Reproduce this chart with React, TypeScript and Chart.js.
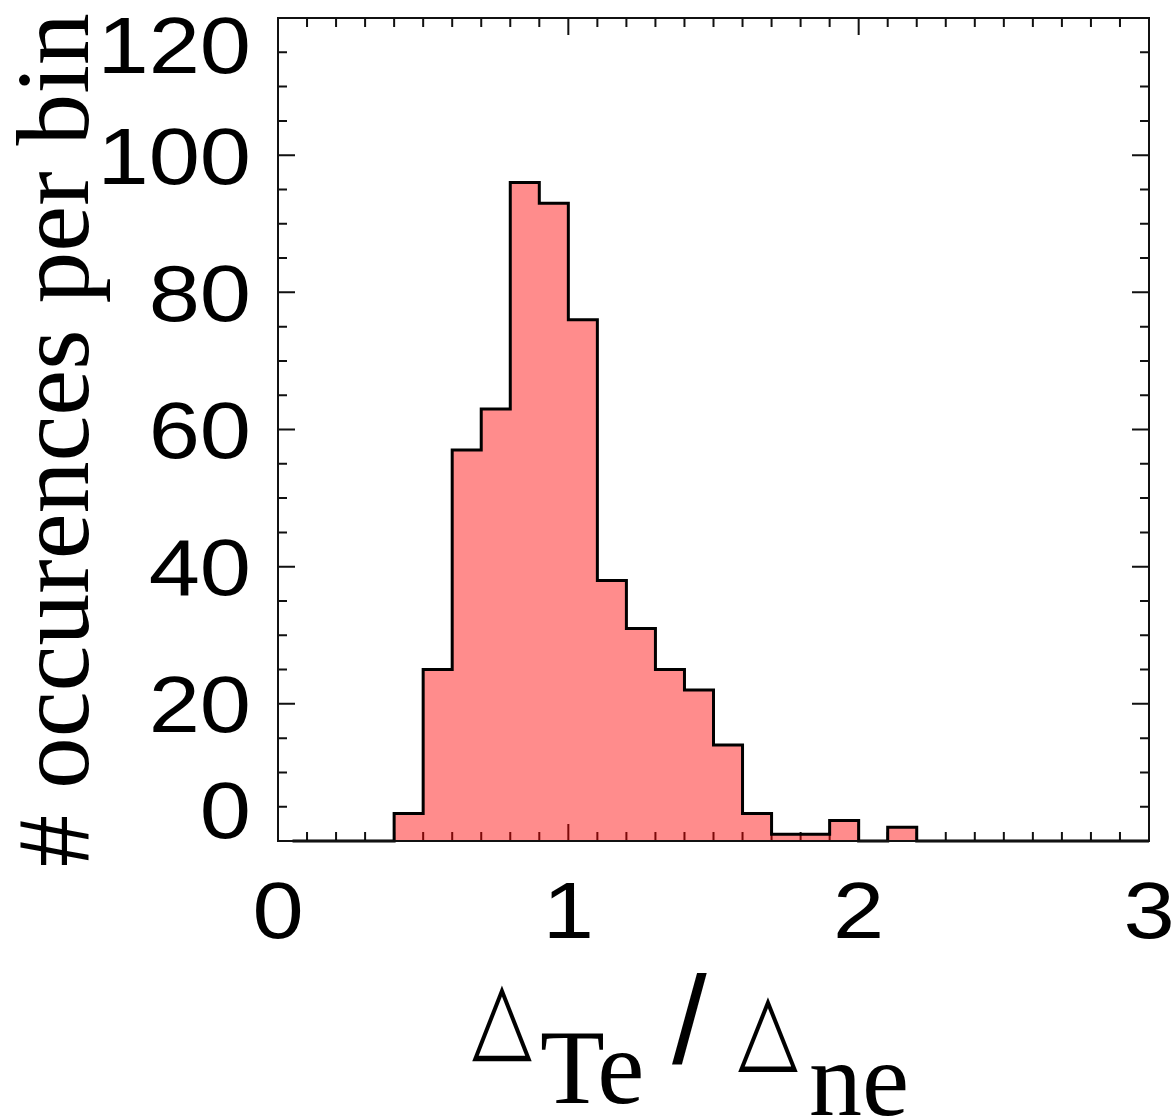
import React, { useEffect, useRef } from 'react';
import { Chart, registerables } from 'chart.js';

Chart.register(...registerables);

// ---------- data ----------
const binCenters = [
  0.05, 0.15, 0.25, 0.35, 0.45, 0.55, 0.65, 0.75, 0.85, 0.95,
  1.05, 1.15, 1.25, 1.35, 1.45, 1.55, 1.65, 1.75, 1.85, 1.95,
  2.05, 2.15, 2.25, 2.35, 2.45, 2.55, 2.65, 2.75, 2.85, 2.95,
];
const counts = [
  0, 0, 0, 0, 4, 25, 57, 63, 96, 93,
  76, 38, 31, 25, 22, 14, 4, 1, 1, 3,
  0, 2, 0, 0, 0, 0, 0, 0, 0, 0,
];
const outlineEndX = 3.0;
const outlineEndY = 0;

const xTickValues = [0, 1, 2, 3];
const xTickLabels = ['0', '1', '2', '3'];
const yTickValues = [0, 20, 40, 60, 80, 100, 120];
const yTickLabels = ['0', '20', '40', '60', '80', '100', '120'];
const xMinorStep = 0.1;
const yMinorStep = 5;

const yTitle = '# occurences per bin';
const xTitleParts = ['\u25B3', 'Te', '/', '\u25B3', 'ne'];

// ---------- layout / style ----------
const W = 1171;
const H = 1117;
const AREA = { left: 278, right: 1149, top: 18, bottom: 841 };
const SANS = "'Liberation Sans', Arial, Helvetica, sans-serif";
const SERIF = "'Liberation Serif', 'Times New Roman', Times, serif";
const SYMBOL = "'DejaVu Sans', sans-serif";
const INK = '#111111';
const MAJOR_LEN = 17;
const MINOR_LEN = 9;
const DIGIT_STRETCH = 1.15;

function drawStretched(ctx: CanvasRenderingContext2D, text: string, x: number, y: number, sx: number) {
  ctx.save();
  ctx.translate(x, y);
  ctx.scale(sx, 1);
  ctx.fillText(text, 0, 0);
  ctx.restore();
}

function drawTriangleGlyph(ctx: CanvasRenderingContext2D, text: string, left: number, bottom: number, w: number, h: number) {
  // fit the glyph's ink box into (w x h) with bottom-left at (left, bottom)
  ctx.save();
  ctx.font = `100px ${SYMBOL}`;
  const m = ctx.measureText(text);
  const inkW = m.actualBoundingBoxLeft + m.actualBoundingBoxRight;
  const inkH = m.actualBoundingBoxAscent + m.actualBoundingBoxDescent;
  const sx = w / (inkW || 1);
  const sy = h / (inkH || 1);
  ctx.translate(left, bottom);
  ctx.scale(sx, sy);
  ctx.textAlign = 'left';
  ctx.textBaseline = 'alphabetic';
  ctx.fillText(text, m.actualBoundingBoxLeft, -m.actualBoundingBoxDescent);
  ctx.restore();
}

const idlAxesPlugin = {
  id: 'idlAxes',
  beforeDatasetsDraw(chart: any) {
    const { ctx, chartArea: a, scales } = chart;
    const xs = scales.x;
    const ys = scales.y;
    ctx.save();
    ctx.strokeStyle = INK;
    ctx.lineWidth = 2;
    ctx.beginPath();
    const xMin = xs.min, xMax = xs.max;
    const nx = Math.round((xMax - xMin) / xMinorStep);
    for (let i = 0; i <= nx; i++) {
      const v = xMin + i * xMinorStep;
      const px = xs.getPixelForValue(v);
      const major = xTickValues.some((t) => Math.abs(t - v) < 1e-6);
      const len = major ? MAJOR_LEN : MINOR_LEN;
      ctx.moveTo(px, a.bottom);
      ctx.lineTo(px, a.bottom - len);
      ctx.moveTo(px, a.top);
      ctx.lineTo(px, a.top + len);
    }
    const yMin = ys.min, yMax = ys.max;
    const ny = Math.round((yMax - yMin) / yMinorStep);
    for (let i = 0; i <= ny; i++) {
      const v = yMin + i * yMinorStep;
      const py = ys.getPixelForValue(v);
      const major = yTickValues.some((t) => Math.abs(t - v) < 1e-6);
      const len = major ? MAJOR_LEN : MINOR_LEN;
      ctx.moveTo(a.left, py);
      ctx.lineTo(a.left + len, py);
      ctx.moveTo(a.right, py);
      ctx.lineTo(a.right - len, py);
    }
    ctx.stroke();
    ctx.restore();
  },
  afterDatasetsDraw(chart: any) {
    const { ctx, chartArea: a, scales } = chart;
    const xs = scales.x;
    const ys = scales.y;
    ctx.save();
    // frame
    ctx.strokeStyle = INK;
    ctx.lineWidth = 2;
    ctx.strokeRect(a.left, a.top, a.right - a.left, a.bottom - a.top);

    ctx.fillStyle = '#000';
    // y tick labels
    ctx.font = `80px ${SANS}`;
    ctx.textAlign = 'right';
    ctx.textBaseline = 'alphabetic';
    yTickValues.forEach((v, i) => {
      let cy = ys.getPixelForValue(v);
      cy = Math.max(a.top + 26, Math.min(a.bottom - 32, cy));
      drawStretched(ctx, yTickLabels[i], 251, cy + 28.5, DIGIT_STRETCH);
    });
    // x tick labels
    ctx.textAlign = 'center';
    xTickValues.forEach((v, i) => {
      const cx = xs.getPixelForValue(v);
      drawStretched(ctx, xTickLabels[i], cx, 938, DIGIT_STRETCH);
    });

    // y title
    ctx.save();
    ctx.font = `103.5px ${SERIF}`;
    ctx.textAlign = 'center';
    ctx.textBaseline = 'alphabetic';
    ctx.translate(88, 440);
    ctx.rotate(-Math.PI / 2);
    ctx.fillText(yTitle, 0, 0);
    ctx.restore();

    // x title: Δ_Te / Δ_ne
    ctx.textAlign = 'left';
    ctx.textBaseline = 'alphabetic';
    drawTriangleGlyph(ctx, xTitleParts[0], 472, 1062, 60, 77);
    ctx.font = `106px ${SERIF}`;
    ctx.fillText(xTitleParts[1], 540, 1103);
    ctx.font = `125px ${SANS}`;
    ctx.fillText(xTitleParts[2], 672, 1063);
    drawTriangleGlyph(ctx, xTitleParts[3], 738, 1073, 60, 76);
    ctx.font = `106px ${SERIF}`;
    ctx.fillText(xTitleParts[4], 809, 1115);
    ctx.restore();
  },
};

export default function App() {
  const ref = useRef<HTMLCanvasElement | null>(null);
  useEffect(() => {
    const canvas = ref.current;
    if (!canvas) return;
    const points = binCenters.map((x, i) => ({ x, y: counts[i] }));
    points.push({ x: outlineEndX, y: outlineEndY });
    const chart = new Chart(canvas, {
      type: 'line',
      data: {
        datasets: [
          {
            data: points,
            stepped: 'middle',
            borderColor: '#000000',
            borderWidth: 3,
            backgroundColor: 'rgba(255,0,0,0.45)',
            fill: 'origin',
            pointRadius: 0,
            clip: 4,
          } as any,
        ],
      },
      options: {
        responsive: false,
        devicePixelRatio: 1,
        animation: false,
        layout: {
          padding: {
            left: AREA.left,
            right: W - AREA.right,
            top: AREA.top,
            bottom: H - AREA.bottom,
          },
        },
        scales: {
          x: { type: 'linear', min: 0, max: 3, display: false },
          y: { type: 'linear', min: 0, max: 120, display: false },
        },
        plugins: {
          legend: { display: false },
          tooltip: { enabled: false },
        },
      },
      plugins: [idlAxesPlugin],
    });
    return () => chart.destroy();
  }, []);
  return (
    <div style={{ position: 'absolute', left: 0, top: 0, width: W, height: H, background: '#fff' }}>
      <canvas ref={ref} width={W} height={H} style={{ display: 'block', width: W, height: H }} />
    </div>
  );
}
